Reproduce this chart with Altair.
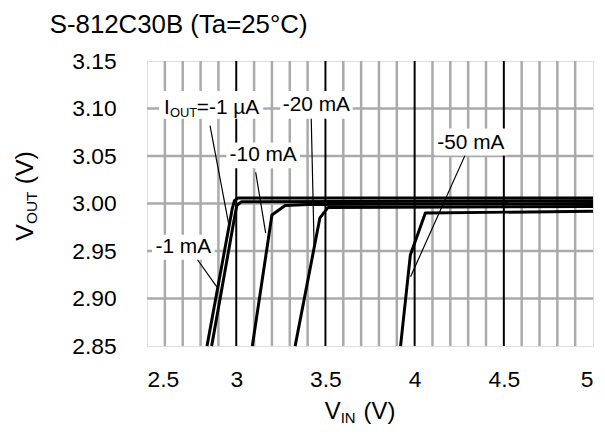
import altair as alt
import pandas as pd

# ---------------- data ----------------
series_names = ["-1 µA", "-1 mA", "-10 mA", "-20 mA", "-50 mA"]
vin_1ua = [2.836, 2.978, 2.990, 3.010, 5.000]
vout_1ua = [2.850, 2.995, 3.003, 3.006, 3.006]
vin_1ma = [2.862, 2.990, 3.003, 3.030, 5.000]
vout_1ma = [2.850, 2.985, 2.998, 3.002, 3.003]
vin_10ma = [3.090, 3.200, 3.274, 3.400, 5.000]
vout_10ma = [2.850, 2.988, 2.998, 2.999, 3.000]
vin_20ma = [3.330, 3.469, 3.515, 5.000]
vout_20ma = [2.850, 2.985, 2.996, 2.997]
vin_50ma = [3.921, 3.976, 4.060, 5.000]
vout_50ma = [2.850, 2.946, 2.990, 2.992]

x_ticks = [2.5, 3.0, 3.5, 4.0, 4.5, 5.0]
y_ticks = [2.85, 2.90, 2.95, 3.00, 3.05, 3.10, 3.15]
x_minor = [2.6, 2.7, 2.8, 2.9, 3.1, 3.2, 3.3, 3.4, 3.6, 3.7, 3.8, 3.9,
           4.1, 4.2, 4.3, 4.4, 4.6, 4.7, 4.8, 4.9]
x_major = [3.0, 3.5, 4.0, 4.5]
y_grid = [2.90, 2.95, 3.00, 3.05, 3.10]

# annotation labels (data coordinates)
label_text = ["-20 mA", "-10 mA", "-1 mA", "-50 mA"]
label_x = [3.449, 3.151, 2.703, 4.315]
label_y = [3.104, 3.051, 2.9545, 3.064]
iout_x = 2.595
iout_y = 3.101

box_x1 = [2.567, 3.246, 2.945, 2.528, 4.115]
box_x2 = [3.151, 3.653, 3.357, 2.879, 4.516]
box_y1 = [3.0894, 3.0894, 3.0371, 2.9409, 3.0507]
box_y2 = [3.1186, 3.1186, 3.0643, 2.9671, 3.0789]

lead_x1 = [2.853, 3.109, 3.420, 2.775, 4.283]
lead_y1 = [3.082, 3.033, 3.092, 2.943, 3.051]
lead_x2 = [2.959, 3.165, 3.437, 2.892, 3.977]
lead_y2 = [2.977, 2.969, 2.951, 2.912, 2.923]

title_text = "S-812C30B (Ta=25°C)"

# ---------------- tables ----------------
rows = []
for name, xs_, ys_ in zip(series_names,
                          [vin_1ua, vin_1ma, vin_10ma, vin_20ma, vin_50ma],
                          [vout_1ua, vout_1ma, vout_10ma, vout_20ma, vout_50ma]):
    for i, (a, b) in enumerate(zip(xs_, ys_)):
        rows.append({"series": name, "order": i, "vin": a, "vout": b})
curves = pd.DataFrame(rows)

minor_df = pd.DataFrame({"x": x_minor})
major_df = pd.DataFrame({"x": x_major})
ygrid_df = pd.DataFrame({"y": y_grid})
labels_df = pd.DataFrame({"t": label_text, "x": label_x, "y": label_y})
boxes_df = pd.DataFrame({"x1": box_x1, "x2": box_x2, "y1": box_y1, "y2": box_y2})
leads_df = pd.DataFrame({"x1": lead_x1, "y1": lead_y1, "x2": lead_x2, "y2": lead_y2})
iout_df = pd.DataFrame({"x": [iout_x], "y": [iout_y]})

FONT = "Liberation Sans"
xs = alt.Scale(domain=[2.5, 5.0], nice=False, zero=False)
ys = alt.Scale(domain=[2.85, 3.15], nice=False, zero=False)
x_axis = alt.Axis(values=x_ticks, format="~g", title=None, grid=False, ticks=False,
                  domain=False, labelFontSize=23, labelFont=FONT, labelColor="black",
                  labelPadding=23)
y_axis = alt.Axis(values=y_ticks, format=".2f", title=None, grid=False, ticks=False,
                  domain=False, labelFontSize=23, labelFont=FONT, labelColor="black",
                  labelPadding=31)


def X(field):
    return alt.X(f"{field}:Q", scale=xs, axis=x_axis)


def Y(field):
    return alt.Y(f"{field}:Q", scale=ys, axis=y_axis)


minor = alt.Chart(minor_df).mark_rule(color="#aaaaaa", strokeWidth=2.5).encode(x=X("x"))
hgrid = alt.Chart(ygrid_df).mark_rule(color="#aaaaaa", strokeWidth=2.5).encode(y=Y("y"))
major = alt.Chart(major_df).mark_rule(color="black", strokeWidth=2).encode(x=X("x"))

lines = alt.Chart(curves).mark_line(color="black", strokeWidth=3, strokeJoin="round").encode(
    x=X("vin"), y=Y("vout"), detail="series:N", order="order:Q"
)

leads = alt.Chart(leads_df).mark_rule(color="black", strokeWidth=1.2).encode(
    x=X("x1"), y=Y("y1"), x2="x2:Q", y2="y2:Q"
)

boxes = alt.Chart(boxes_df).mark_rect(color="white").encode(
    x=X("x1"), x2="x2:Q", y=Y("y1"), y2="y2:Q"
)

texts = alt.Chart(labels_df).mark_text(
    font=FONT, fontSize=21, color="black", align="center", baseline="middle"
).encode(x=X("x"), y=Y("y"), text="t:N")

iout_main = alt.Chart(iout_df).mark_text(
    font=FONT, fontSize=21, color="black", align="left", baseline="middle", text="I"
).encode(x=X("x"), y=Y("y"))
iout_sub = alt.Chart(iout_df).mark_text(
    font=FONT, fontSize=13, color="black", align="left", baseline="middle", text="OUT",
    dx=6, dy=5
).encode(x=X("x"), y=Y("y"))
iout_rest = alt.Chart(iout_df).mark_text(
    font=FONT, fontSize=21, color="black", align="left", baseline="middle", text="=-1 µA",
    dx=33
).encode(x=X("x"), y=Y("y"))


# title and axis titles with subscripts (pixel positions relative to the plot area)
def ttext(txt, px, py, size, angle=0):
    kw = dict(font=FONT, fontSize=size, color="black", align="left",
              baseline="alphabetic", text=txt)
    if angle:
        kw["angle"] = angle
    return alt.Chart(iout_df).mark_text(**kw).encode(x=alt.value(px), y=alt.value(py))


title = ttext(title_text, -98, -28, 26)
xt1 = ttext("V", 179, 360, 24)
xt2 = ttext("IN", 195, 364, 15)
xt3 = ttext("(V)", 218, 360, 24)
yt1 = ttext("V", -115, 181, 25, 270)
yt2 = ttext("OUT", -111, 164, 15.5, 270)
yt3 = ttext("(V)", -115, 124, 25, 270)

chart = alt.layer(
    minor, hgrid, major, lines, leads, boxes, texts, iout_main, iout_sub, iout_rest,
    title, xt1, xt2, xt3, yt1, yt2, yt3
).properties(
    width=449,
    height=287,
    autosize=alt.AutoSizeParams(type="none"),
    padding={"left": 140, "top": 52, "right": 4, "bottom": 78},
).configure_view(
    stroke="black", strokeWidth=4
).configure(background="white")

chart.save("out.html", embed_options={"renderer": "svg", "actions": False})
